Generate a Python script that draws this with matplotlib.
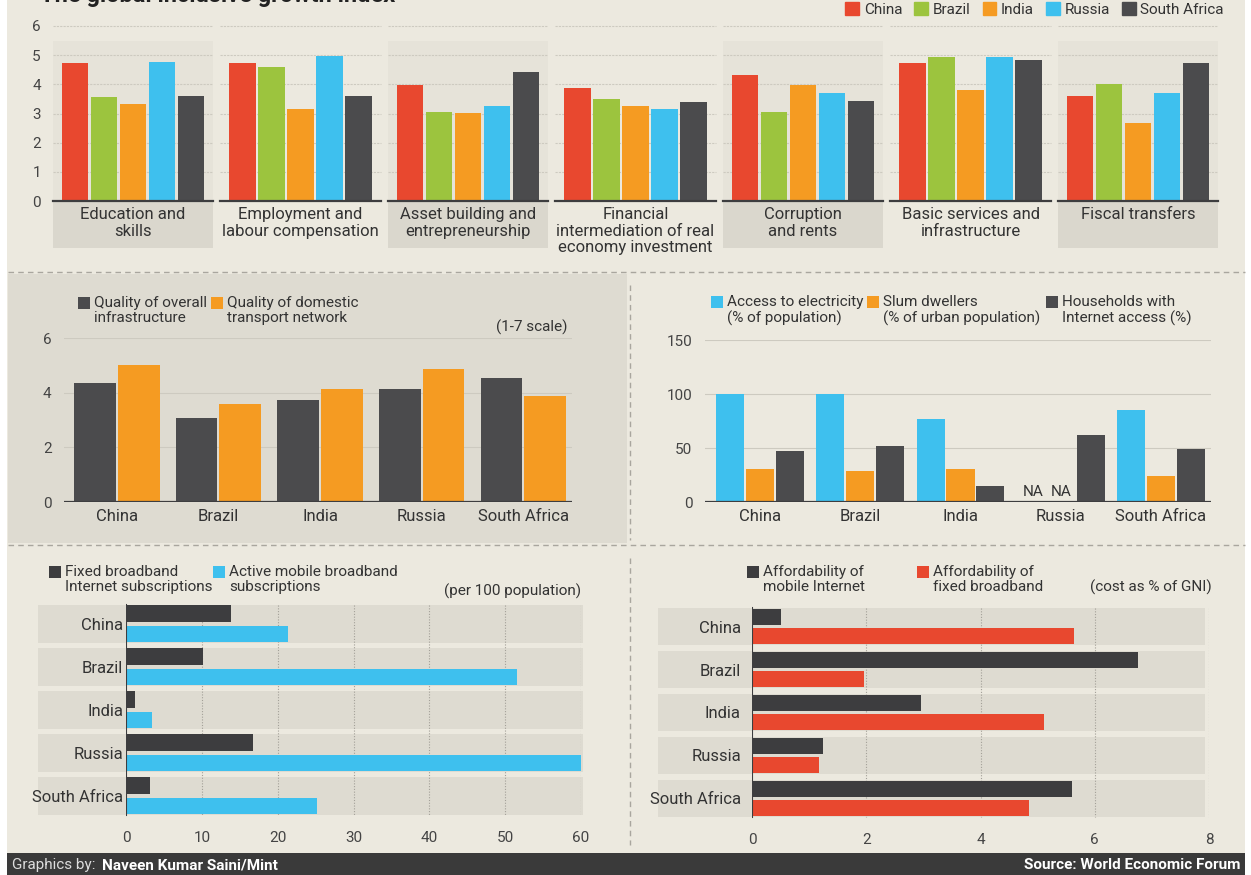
import numpy as np
import matplotlib.pyplot as plt
from matplotlib.patches import Rectangle, Patch
from matplotlib.lines import Line2D

W, H = 1251, 875

plt.rcParams['font.family'] = ['Roboto', 'DejaVu Sans']

# data
countries = ['China', 'Brazil', 'India', 'Russia', 'South Africa']
country_colors = ['#e8482f', '#9cc43e', '#f59b22', '#3ec0ee', '#4b4b4d']

pillars = ['Education and\nskills', 'Employment and\nlabour compensation',
           'Asset building and\nentrepreneurship',
           'Financial\nintermediation of real\neconomy investment',
           'Corruption\nand rents', 'Basic services and\ninfrastructure',
           'Fiscal transfers']
china_idx = [4.73, 4.73, 3.98, 3.86, 4.33, 4.73, 3.61]
brazil_idx = [3.55, 4.60, 3.05, 3.50, 3.05, 4.95, 4.00]
india_idx = [3.33, 3.14, 3.01, 3.25, 3.98, 3.80, 2.68]
russia_idx = [4.77, 4.98, 3.25, 3.16, 3.70, 4.95, 3.70]
safrica_idx = [3.59, 3.59, 4.41, 3.41, 3.44, 4.83, 4.73]

infra_quality = [4.37, 3.07, 3.73, 4.13, 4.53]
transport_quality = [5.02, 3.58, 4.13, 4.87, 3.89]

electricity = [100, 100, 77, np.nan, 85.5]
slum_dwellers = [30.4, 28.5, 30.4, np.nan, 24.2]
households_internet = [47.2, 51.8, 15.0, 62.3, 49.4]

fixed_bb = [13.9, 10.2, 1.2, 16.8, 3.2]
mobile_bb = [21.4, 51.6, 3.4, 60.1, 25.2]

afford_mobile = [0.5, 6.75, 2.96, 1.25, 5.6]
afford_fixed = [5.63, 1.96, 5.12, 1.17, 4.85]

BG = '#ece9df'
BAND = '#dedbd1'
DARK = '#3d3d3f'
TXT = '#333333'
GRID = '#cdcac0'

fig = plt.figure(figsize=(W / 100, H / 100), dpi=100, facecolor='white')


def px_axes(x0, y0, x1, y1):
    ax = fig.add_axes([x0 / W, 1 - y1 / H, (x1 - x0) / W, (y1 - y0) / H])
    ax.patch.set_alpha(0)
    for s in ax.spines.values():
        s.set_visible(False)
    ax.tick_params(length=0, colors='#444444', labelsize=11)
    return ax


def fig_rect(x0, y0, x1, y1, color, z=-10):
    fig.add_artist(Rectangle((x0 / W, 1 - y1 / H), (x1 - x0) / W, (y1 - y0) / H,
                             transform=fig.transFigure, color=color, zorder=z, lw=0))


def fig_dash(x0, y0, x1, y1):
    fig.add_artist(Line2D([x0 / W, x1 / W], [1 - y0 / H, 1 - y1 / H], transform=fig.transFigure,
                          color='#a9a69e', lw=1, ls=(0, (4, 3)), zorder=-5))


def legend_item(x, y, color, text):
    fig_rect(x, y - 6, x + 12, y + 6, color, z=5)
    fig.text((x + 16) / W, 1 - (y - 7) / H, text, ha='left', va='top', fontsize=11,
             color=TXT, linespacing=1.1)


# backgrounds
fig_rect(7, 0, 1245, 855, BG, z=-20)
fig_rect(8, 274, 627, 543, '#dedbd1', z=-15)
fig_rect(7, 853, 1245, 875, '#3a3a3a', z=-5)

fig_dash(8, 272, 1245, 272)
fig_dash(8, 545, 1245, 545)
fig_dash(630, 285, 630, 540)
fig_dash(630, 558, 630, 845)

fig.text(40 / W, 1 + 4 / H, 'The global inclusive growth index', fontsize=17,
         fontweight='bold', color='#222222', ha='left', va='center')

# ---- top panel: inclusive growth index by pillar
ax = px_axes(49.25, 20, 1221.75, 262)
ax.set_xlim(-0.5, 6.5)
ax.set_ylim(-2.09, 6.205)
series = [china_idx, brazil_idx, india_idx, russia_idx, safrica_idx]
for i, label in enumerate(pillars):
    if i % 2 == 0:
        ax.add_patch(Rectangle((i - 0.48, 0), 0.96, 5.5, color='#e6e3d9', lw=0, zorder=0))
        ax.add_patch(Rectangle((i - 0.48, -1.61), 0.96, 1.61, color='#dad7cd', lw=0, zorder=0))
    for v in range(1, 7):
        ax.plot([i - 0.48, i + 0.48], [v, v], color=GRID, lw=0.8, ls=(0, (2, 1)), zorder=1)
    for j, vals in enumerate(series):
        ax.bar(i + (j - 2) * 0.173, vals[i], width=0.16, color=country_colors[j], zorder=2)
    ax.plot([i - 0.48, i + 0.48], [0, 0], color=DARK, lw=1.6, zorder=3)
    ax.text(i, -0.2, label, ha='center', va='top', fontsize=12, color=TXT, linespacing=1.15)
ax.set_xticks([])
ax.set_yticks(range(7))
ax.tick_params(axis='y', pad=6)

handles = [Patch(color=c) for c in country_colors]
fig.legend(handles, countries, loc='upper right', bbox_to_anchor=(1224 / W, 1 - 2 / H), ncol=5,
           frameon=False, fontsize=11, handlelength=0.9, handleheight=0.9, handletextpad=0.3,
           columnspacing=0.8, labelcolor=TXT, borderpad=0, borderaxespad=0)

# ---- middle left: infrastructure quality
ax = px_axes(64, 338, 572, 502)
ax.set_xlim(-0.52, 4.48)
ax.set_ylim(0, 6)
x = np.arange(len(countries))
for v in [2, 4, 6]:
    ax.axhline(v, color=GRID, lw=0.8, zorder=0)
ax.bar(x - 0.215, infra_quality, width=0.41, color='#4b4b4d', zorder=2)
ax.bar(x + 0.215, transport_quality, width=0.41, color='#f59b22', zorder=2)
ax.axhline(0, color=DARK, lw=1.6, zorder=3)
ax.set_yticks([0, 2, 4, 6])
ax.set_xticks(x)
ax.set_xticklabels(countries, fontsize=12, color=TXT)
ax.tick_params(axis='y', pad=9)
ax.tick_params(axis='x', pad=5)
legend_item(78, 303, '#4b4b4d', 'Quality of overall\ninfrastructure')
legend_item(211, 303, '#f59b22', 'Quality of domestic\ntransport network')
fig.text(568 / W, 1 - 327 / H, '(1-7 scale)', ha='right', va='center', fontsize=11, color=TXT)

# ---- middle right: basic services
ax = px_axes(705, 340, 1211, 502)
ax.set_xlim(-0.55, 4.5)
ax.set_ylim(0, 150)
for v in [50, 100, 150]:
    ax.axhline(v, color=GRID, lw=0.8, zorder=0)
ax.bar(x - 0.298, electricity, width=0.28, color='#3ec0ee', zorder=2)
ax.bar(x, slum_dwellers, width=0.28, color='#f59b22', zorder=2)
ax.bar(x + 0.298, households_internet, width=0.28, color='#4b4b4d', zorder=2)
for k in range(len(countries)):
    if np.isnan(electricity[k]):
        ax.text(k - 0.27, 3, 'NA', ha='center', va='bottom', fontsize=11, color=TXT)
    if np.isnan(slum_dwellers[k]):
        ax.text(k + 0.0, 3, 'NA', ha='center', va='bottom', fontsize=11, color=TXT)
ax.axhline(0, color=DARK, lw=1.6, zorder=3)
ax.set_yticks([0, 50, 100, 150])
ax.set_xticks(x)
ax.set_xticklabels(countries, fontsize=12, color=TXT)
ax.tick_params(axis='y', pad=9)
ax.tick_params(axis='x', pad=5)
legend_item(711, 302, '#3ec0ee', 'Access to electricity\n(% of population)')
legend_item(867, 302, '#f59b22', 'Slum dwellers\n(% of urban population)')
legend_item(1046, 302, '#4b4b4d', 'Households with\nInternet access (%)')

# ---- bottom left: broadband subscriptions
ax = px_axes(126, 600, 581, 820)
ax.set_xlim(0, 60)
ax.set_ylim(4.558, -0.558)
for k in range(len(countries)):
    ax.add_patch(Rectangle((-11.6, k - 0.442), 71.9, 0.884, color=BAND, lw=0, zorder=0,
                           clip_on=False))
for v in range(10, 61, 10):
    ax.plot([v, v], [-0.442, 4.442], color='#a3a098', lw=0.8, ls=(0, (1, 1.5)), zorder=1)
ax.barh(x - 0.24, fixed_bb, height=0.39, color=DARK, zorder=2)
ax.barh(x + 0.235, mobile_bb, height=0.39, color='#3ec0ee', zorder=2)
ax.plot([0, 0], [-0.442, 4.442], color=DARK, lw=1.5, zorder=3)
ax.set_yticks(x)
ax.set_yticklabels(countries, fontsize=12, color=TXT)
ax.set_xticks(range(0, 61, 10))
ax.tick_params(axis='y', pad=2)
ax.tick_params(axis='x', pad=8)
legend_item(49, 572, DARK, 'Fixed broadband\nInternet subscriptions')
legend_item(213, 572, '#3ec0ee', 'Active mobile broadband\nsubscriptions')
fig.text(581 / W, 1 - 591 / H, '(per 100 population)', ha='right', va='center', fontsize=11,
         color=TXT)

# ---- bottom right: affordability
ax = px_axes(752, 603, 1209, 822)
ax.set_xlim(0, 8)
ax.set_ylim(4.547, -0.547)
for k in range(len(countries)):
    ax.add_patch(Rectangle((-1.64, k - 0.42), 9.57, 0.84, color=BAND, lw=0, zorder=0,
                           clip_on=False))
for v in [2, 4, 6, 8]:
    ax.plot([v, v], [-0.42, 4.42], color='#a3a098', lw=0.8, ls=(0, (1, 1.5)), zorder=1)
ax.barh(x - 0.22, afford_mobile, height=0.38, color=DARK, zorder=2)
ax.barh(x + 0.22, afford_fixed, height=0.38, color='#e8482f', zorder=2)
ax.plot([0, 0], [-0.42, 4.42], color=DARK, lw=1.5, zorder=3)
ax.set_yticks(x)
ax.set_yticklabels(countries, fontsize=12, color=TXT)
ax.set_xticks([0, 2, 4, 6, 8])
ax.tick_params(axis='y', pad=8)
ax.tick_params(axis='x', pad=8)
legend_item(747, 572, DARK, 'Affordability of\nmobile Internet')
legend_item(917, 572, '#e8482f', 'Affordability of\nfixed broadband')
fig.text(1212 / W, 1 - 587 / H, '(cost as % of GNI)', ha='right', va='center', fontsize=11,
         color=TXT)

# ---- footer
fig.text(12 / W, 1 - 865 / H, 'Graphics by:', ha='left', va='center', fontsize=11,
         color='#dddddd')
fig.text(102 / W, 1 - 865 / H, 'Naveen Kumar Saini/Mint', ha='left', va='center', fontsize=11,
         color='white', fontweight='bold')
fig.text(1240 / W, 1 - 865 / H, 'Source: World Economic Forum', ha='right', va='center',
         fontsize=11, color='white', fontweight='bold')

fig.savefig('out.png', dpi=100, facecolor='white')
